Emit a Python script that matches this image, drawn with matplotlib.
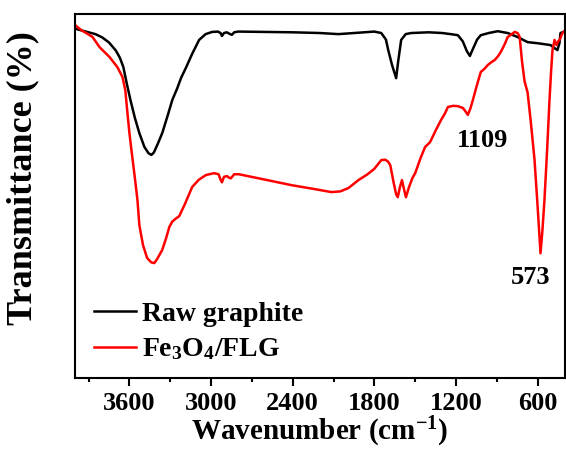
import matplotlib
matplotlib.use("Agg")
import matplotlib.pyplot as plt

plt.rcParams['font.family'] = ['Liberation Serif', 'DejaVu Serif']
plt.rcParams['font.weight'] = 'bold'
plt.rcParams['axes.labelweight'] = 'bold'
plt.rcParams['mathtext.fontset'] = 'custom'
plt.rcParams['mathtext.rm'] = 'Liberation Serif:bold'
plt.rcParams['mathtext.default'] = 'rm'

# raw graphite spectrum (wavenumber, transmittance a.u.)
raw_wn = [4000, 3950, 3900, 3850, 3800, 3750, 3700, 3670, 3645, 3620, 3590, 3560,
          3527, 3490, 3460, 3439, 3420, 3390, 3359, 3320, 3285, 3250, 3220, 3183,
          3140, 3088, 3040, 2993, 2950, 2930, 2920, 2905, 2885, 2865, 2847, 2830,
          2800, 2600, 2400, 2200, 2064, 1950, 1800, 1749, 1715, 1698, 1670, 1640,
          1625, 1603, 1570, 1530, 1400, 1300, 1220, 1186, 1150, 1120, 1098, 1075,
          1045, 1018, 960, 893, 820, 747, 674, 601, 506, 455, 440, 432, 418, 400]
raw_t = [96.0, 95.5, 95.0, 94.5, 93.6, 92.2, 90.0, 88.0, 85.5, 81.0, 76.0, 71.5,
         67.3, 63.5, 61.8, 61.3, 62.0, 64.5, 67.3, 72.0, 76.4, 79.5, 82.5, 85.4,
         89.0, 92.9, 94.5, 95.1, 95.2, 94.8, 94.0, 94.8, 95.0, 94.6, 94.3, 95.0,
         95.2, 95.1, 95.0, 94.8, 94.5, 94.8, 95.2, 94.8, 93.0, 90.1, 86.0, 82.4,
         87.0, 92.9, 94.5, 94.8, 95.0, 94.8, 94.4, 94.2, 92.5, 89.8, 88.5, 90.5,
         93.0, 94.2, 94.8, 95.3, 94.8, 93.7, 92.3, 92.0, 91.5, 90.1, 92.0, 94.8, 95.0, 95.2]

# Fe3O4/FLG spectrum
fe_wn = [4000, 3950, 3900, 3871, 3819, 3746, 3688, 3651, 3630, 3615, 3600, 3585,
         3560, 3541, 3527, 3500, 3470, 3440, 3417, 3395, 3359, 3330, 3307, 3285,
         3260, 3234, 3190, 3139, 3090, 3037, 2978, 2945, 2930, 2920, 2905, 2883,
         2865, 2854, 2830, 2795, 2600, 2408, 2250, 2115, 2050, 1991, 1917, 1850,
         1800, 1749, 1720, 1700, 1683, 1660, 1640, 1628, 1612, 1597, 1583, 1568,
         1545, 1520, 1500, 1460, 1427, 1391, 1350, 1310, 1280, 1259, 1220, 1186,
         1149, 1125, 1113, 1095, 1076, 1050, 1018, 990, 967, 940, 915, 890, 871,
         845, 820, 790, 769, 747, 732, 715, 696, 674, 652, 623, 600, 579,
         565, 550, 530, 513, 500, 491, 476, 462, 450, 439, 418, 400]
fe_t = [97.0, 95.5, 94.4, 93.7, 90.9, 88.2, 85.4, 82.7, 79.0, 73.0, 67.3, 62.6,
        55.0, 48.9, 42.0, 36.5, 33.0, 31.8, 31.6, 32.8, 35.2, 38.5, 41.5, 43.0,
        43.8, 44.5, 48.0, 52.5, 54.5, 55.8, 56.3, 56.0, 54.5, 53.8, 55.3, 55.5,
        55.0, 54.9, 56.0, 56.0, 54.5, 53.0, 52.0, 51.1, 51.3, 52.2, 54.4, 56.0,
        57.5, 59.9, 60.0, 59.5, 58.5, 54.0, 50.5, 49.7, 52.5, 54.4, 52.0, 49.7,
        52.5, 55.0, 56.3, 60.5, 63.5, 64.8, 68.0, 70.9, 72.8, 74.5, 74.8, 74.7,
        74.2, 73.0, 72.3, 74.0, 76.4, 80.0, 84.1, 85.0, 86.0, 86.8, 87.4, 88.5, 89.6,
        91.5, 93.7, 94.5, 95.1, 94.8, 93.7, 87.0, 81.5, 78.5, 71.0, 60.0, 47.0, 34.3,
        40.5, 48.9, 63.0, 76.4, 85.0, 90.1, 92.9, 91.5, 92.5, 92.9, 94.8, 95.5]

fig = plt.figure(figsize=(5.66, 4.55), dpi=100)
ax = fig.add_axes([0.1325, 0.169, 0.8655, 0.80])

ax.plot(raw_wn, raw_t, color='black', lw=1.8, label='Raw graphite')
ax.plot(fe_wn, fe_t, color='red', lw=1.8, label='Fe$_3$O$_4$/FLG')

ax.set_xlim(4000, 400)
ax.set_ylim(0, 100)
ax.set_xticks([3600, 3000, 2400, 1800, 1200, 600])
ax.set_xticks(range(3900, 400, -300), minor=True)
ax.set_yticks([])
ax.tick_params(axis='x', which='major', direction='out', length=6, width=1.5, labelsize=19, pad=4)
ax.tick_params(axis='x', which='minor', direction='out', length=3, width=1.5)
for s in ax.spines.values():
    s.set_linewidth(1.5)

ax.set_xlabel('Wavenumber (cm$^{-1}$)', fontsize=21, labelpad=0)
ax.set_ylabel('Transmittance (%)', fontsize=26)
ax.yaxis.set_label_coords(-0.072, 0.55)

ax.text(1005, 65.4, '1109', fontsize=19, ha='center', va='center')
ax.text(652, 27.7, '573', fontsize=19, ha='center', va='center')

ax.legend(loc='lower left', bbox_to_anchor=(0.0, -0.01), frameon=False, fontsize=20,
          handlelength=1.5, handletextpad=0.2, labelspacing=0.35, borderaxespad=0.3)

fig.savefig('out.png', dpi=100)
